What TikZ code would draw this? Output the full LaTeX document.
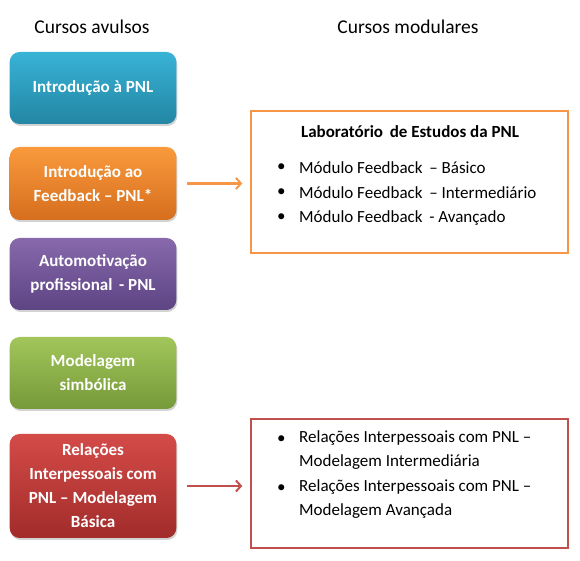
\documentclass[tikz,border=0pt]{standalone}
\usepackage{fontspec}
\setmainfont{Carlito}
\usepackage{xcolor}
\usetikzlibrary{positioning, arrows.meta, shadows}

\definecolor{azul}{HTML}{38B3D6}
\definecolor{azulesc}{HTML}{2386A4}
\definecolor{laranja}{HTML}{F99A3C}
\definecolor{laranjaesc}{HTML}{D66E1E}
\definecolor{roxo}{HTML}{8769AC}
\definecolor{roxoesc}{HTML}{5D4483}
\definecolor{verde}{HTML}{A2C65A}
\definecolor{verdeesc}{HTML}{76993A}
\definecolor{vermelho}{HTML}{D44B48}
\definecolor{vermelhoesc}{HTML}{A12C2A}
\definecolor{bordalaranja}{HTML}{F79646}
\definecolor{bordavermelha}{HTML}{C0504D}

\begin{document}
\begin{tikzpicture}[x=1pt, y=1pt,
  curso/.style={rounded corners=10pt, minimum width=164pt, text width=160pt,
    align=flush center, text=white, font=\fontsize{17}{24}\selectfont\bfseries,
    drop shadow={shadow xshift=1pt, shadow yshift=-2pt, opacity=0.35}},
  modulo/.style={draw, line width=1.4pt, minimum width=317pt},
  item/.style={anchor=west, font=\fontsize{17}{24}\selectfont, inner sep=0pt},
  seta/.style={-{Straight Barb[length=5pt, width=11pt, line width=2pt]}, shorten <=10pt, shorten >=8pt}]

\useasboundingbox (0,0) rectangle (580,561);

% Headers
\node[font=\fontsize{19.5}{22}\selectfont] (avulsos) at (92,534) {Cursos avulsos};
\node[font=\fontsize{19.5}{22}\selectfont] (modulares) at (408,534) {Cursos modulares};

% Left column
\node[curso, minimum height=72pt, top color=azul, bottom color=azulesc] (intro) at (93,473) {Introdução à PNL};
\node[curso, minimum height=73pt, top color=laranja, bottom color=laranjaesc] (feedback) at (93,377.5) {Introdução ao\\Feedback -- PNL*};
\node[curso, minimum height=72pt, top color=roxo, bottom color=roxoesc] (automot) at (93,287) {Automotivação\\profissional \,- PNL};
\node[curso, minimum height=72pt, top color=verde, bottom color=verdeesc] (modelagem) at (93,188) {Modelagem\\simbólica};
\node[curso, minimum height=104pt, top color=vermelho, bottom color=vermelhoesc] (relacoes) at (93,75) {Relações\\Interpessoais com\\PNL -- Modelagem\\Básica};

% Right column
\node[modulo, draw=bordalaranja, minimum height=142pt] (lab) at (409.5,379) {};
\node[font=\fontsize{17}{20}\selectfont\bfseries] (labtit) at (410,429) {Laboratório \,de Estudos da PNL};
\foreach \i/\txt in {1/Módulo Feedback \,-- Básico, 2/Módulo Feedback \,-- Intermediário, 3/Módulo Feedback \,- Avançado} {
  \node[item] (b\i) at (277,{393-25*(\i-1)}) {\textbullet};
  \node[item] (m\i) at (299,{393-25*(\i-1)}) {\txt};
}

\node[modulo, draw=bordavermelha, minimum height=129pt] (rel) at (409.5,77.5) {};
\node[item] (rb1) at (277,121) {\textbullet};
\node[item, anchor=north west, text width=260pt, align=flush left] (r1) at (299,131) {Relações Interpessoais com PNL --\\Modelagem Intermediária};
\node[item] (rb2) at (277,72) {\textbullet};
\node[item, anchor=north west, text width=260pt, align=flush left] (r2) at (299,82) {Relações Interpessoais com PNL --\\Modelagem Avançada};

% Arrows
\draw[seta, bordalaranja, line width=2.6pt] (feedback.east) -- (feedback.east -| lab.west);
\draw[seta, bordavermelha, line width=1.8pt] (relacoes.east) -- (relacoes.east -| rel.west);

\end{tikzpicture}
\end{document}
